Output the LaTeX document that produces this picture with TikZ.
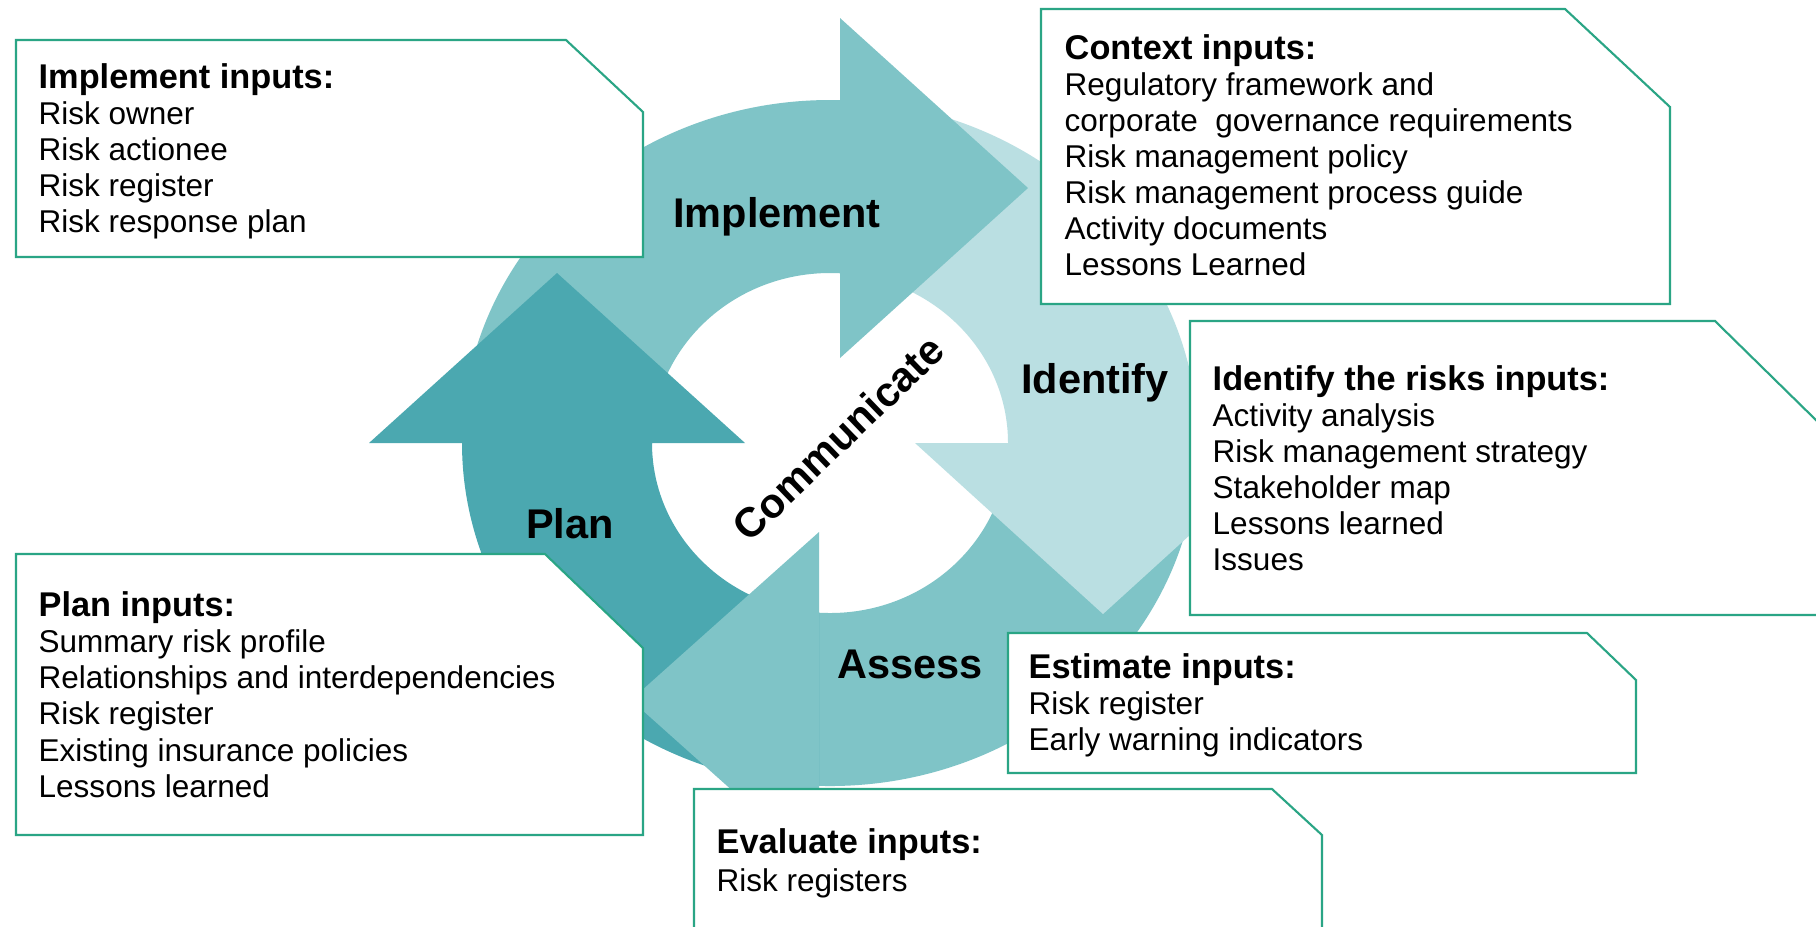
\documentclass[tikz,border=0pt]{standalone}
\usepackage{fontspec}
\setmainfont{Liberation Sans}
\usepackage{xcolor}
\definecolor{plandark}{HTML}{4BA8B0}
\definecolor{ringmid}{HTML}{7FC4C7}
\definecolor{ringlight}{HTML}{BADFE2}
\definecolor{boxgreen}{HTML}{2AA585}
\tikzset{
  inbox/.style={draw=boxgreen,fill=white,line width=0.6pt},
  head/.style={anchor=base west,inner sep=0pt,font=\fontsize{9.76}{10}\selectfont\bfseries},
  item/.style={anchor=base west,inner sep=0pt,font=\fontsize{8.96}{10}\selectfont},
  stage/.style={inner sep=0pt,font=\fontsize{11.8}{12}\selectfont\bfseries}
}

\begin{document}
\begin{tikzpicture}[x=0.01cm,y=-0.01cm]
            \useasboundingbox (0,0) rectangle (1816,926);
            \clip (0,0) rectangle (1816,926);
            \fill[white] (0,0) rectangle (1816,926);

            % ring quarters
            \begin{scope}
              \clip (0,0) rectangle (840,443);
              \fill[ringmid,even odd rule] (830,443) ellipse [x radius=368,y radius=343] (830,443) ellipse [x radius=178,y radius=170];
            \end{scope}
            \begin{scope}
              \clip (840,0) rectangle (1816,443);
              \fill[ringlight,even odd rule] (830,443) ellipse [x radius=368,y radius=343] (830,443) ellipse [x radius=178,y radius=170];
            \end{scope}
            \begin{scope}
              \clip (819,443) rectangle (1816,926);
              \fill[ringmid,even odd rule] (830,443) ellipse [x radius=368,y radius=343] (830,443) ellipse [x radius=178,y radius=170];
            \end{scope}
            \begin{scope}
              \clip (0,443) rectangle (819,926);
              \fill[plandark,even odd rule] (830,443) ellipse [x radius=368,y radius=343] (830,443) ellipse [x radius=178,y radius=170];
            \end{scope}

            % arrow heads
            \fill[plandark] (369,443) -- (745,443) -- (557,273) -- cycle;
            \fill[ringmid] (840,18) -- (840,358) -- (1028,188) -- cycle;
            \fill[ringlight] (915,443) -- (1291,443) -- (1103,614) -- cycle;
            \fill[ringmid] (819,532) -- (819,868) -- (631,700) -- cycle;

            \node[stage,anchor=base] (implement) at (777,227) {Implement};
            \node[stage,anchor=base] (identify) at (1095,393) {Identify};
            \node[stage,anchor=base] (plan) at (570,538) {Plan};
            \node[stage,anchor=base] (assess) at (910,678) {Assess};
            \node[stage,rotate=44] (communicate) at (838,438) {Communicate};

            % input boxes
            \draw[inbox] (16,40) -- (566,40) -- (643,112) -- (643,257) -- (16,257) -- cycle;
            \node[head] (imphead) at (38,88) {Implement inputs:};
            \foreach \t [count=\n] in {Risk owner,Risk actionee,Risk register,Risk response plan}
              \node[item] (imp\n) at (38,{88+36.2*\n}) {\t};

            \draw[inbox] (1041,9) -- (1565,9) -- (1670,107) -- (1670,304) -- (1041,304) -- cycle;
            \node[head] (ctxhead) at (1064,59) {Context inputs:};
            \foreach \t [count=\n] in {Regulatory framework and,corporate\ \ governance requirements,Risk management policy,Risk management process guide,Activity documents,Lessons Learned}
              \node[item] (ctx\n) at (1064,{59+36.1*\n}) {\t};

            \draw[inbox] (1190,321) -- (1715,321) -- (1820,424) -- (1820,615) -- (1190,615) -- cycle;
            \node[head] (idhead) at (1212,390) {Identify the risks inputs:};
            \foreach \t [count=\n] in {Activity analysis,Risk management strategy,Stakeholder map,Lessons learned,Issues}
              \node[item] (id\n) at (1212,{390+36*\n}) {\t};

            \draw[inbox] (16,554) -- (545,554) -- (643,648) -- (643,835) -- (16,835) -- cycle;
            \node[head] (planhead) at (38,616) {Plan inputs:};
            \foreach \t [count=\n] in {Summary risk profile,Relationships and interdependencies,Risk register,Existing insurance policies,Lessons learned}
              \node[item] (plan\n) at (38,{616+36.3*\n}) {\t};

            \draw[inbox] (1008,633) -- (1587,633) -- (1636,680) -- (1636,773) -- (1008,773) -- cycle;
            \node[head] (esthead) at (1028,678) {Estimate inputs:};
            \foreach \t [count=\n] in {Risk register,Early warning indicators}
              \node[item] (est\n) at (1028,{678+36.2*\n}) {\t};

            \draw[inbox] (694,789) -- (1272,789) -- (1322,835) -- (1322,940) -- (694,940) -- cycle;
            \node[head] (evalhead) at (716,853) {Evaluate inputs:};
            \node[item] (eval1) at (716,891) {Risk registers};
\end{tikzpicture}
\end{document}
